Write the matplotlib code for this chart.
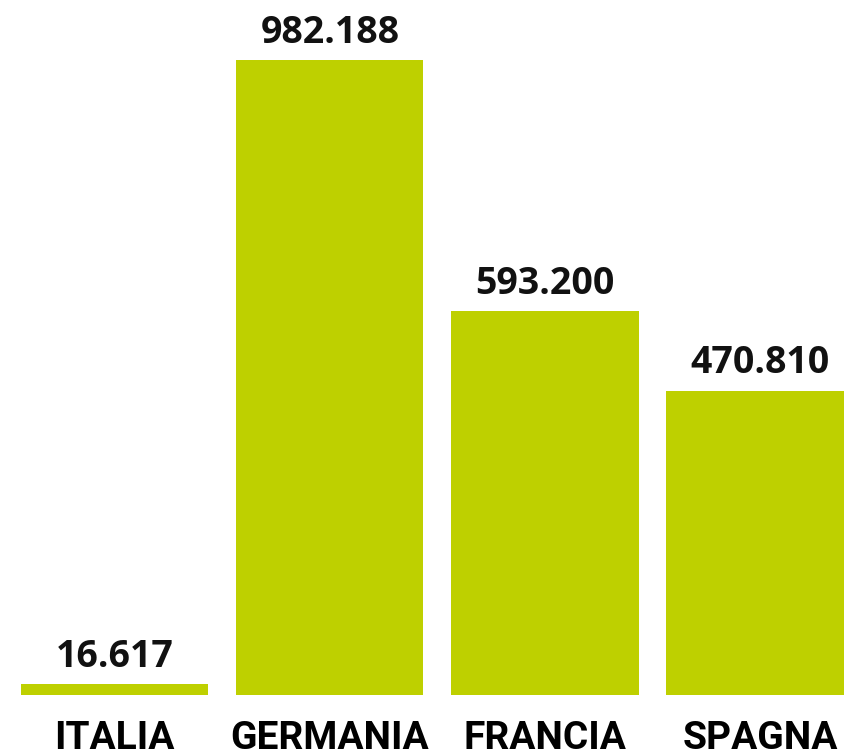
import matplotlib.pyplot as plt

paesi = ["ITALIA", "GERMANIA", "FRANCIA", "SPAGNA"]
valori = [16.617, 982.188, 593.200, 470.810]
etichette = ["16.617", "982.188", "593.200", "470.810"]

fig = plt.figure(figsize=(8.44, 7.49), dpi=100)
ax = fig.add_axes([21 / 844, 54 / 749, 823 / 844, 695 / 749])

pos = list(range(len(paesi)))
bars = ax.bar(pos, valori, width=0.87, color="#bed000")

for b, t in zip(bars, etichette):
    ax.annotate(t, (b.get_x() + b.get_width() / 2, b.get_height()),
                xytext=(0, 12.5), textcoords="offset points",
                ha="center", va="baseline", fontsize=27,
                fontweight="bold", family="Open Sans", color="#111111")

ax.set_xlim(-0.435, 3.39)
ax.set_ylim(0, 1075)
ax.set_xticks(pos)
ax.set_xticklabels(paesi, fontsize=28, fontweight="bold", family="Roboto")
ax.tick_params(axis="x", length=0, pad=18)
ax.set_yticks([])
for s in ax.spines.values():
    s.set_visible(False)

fig.savefig("out.png", dpi=100)
